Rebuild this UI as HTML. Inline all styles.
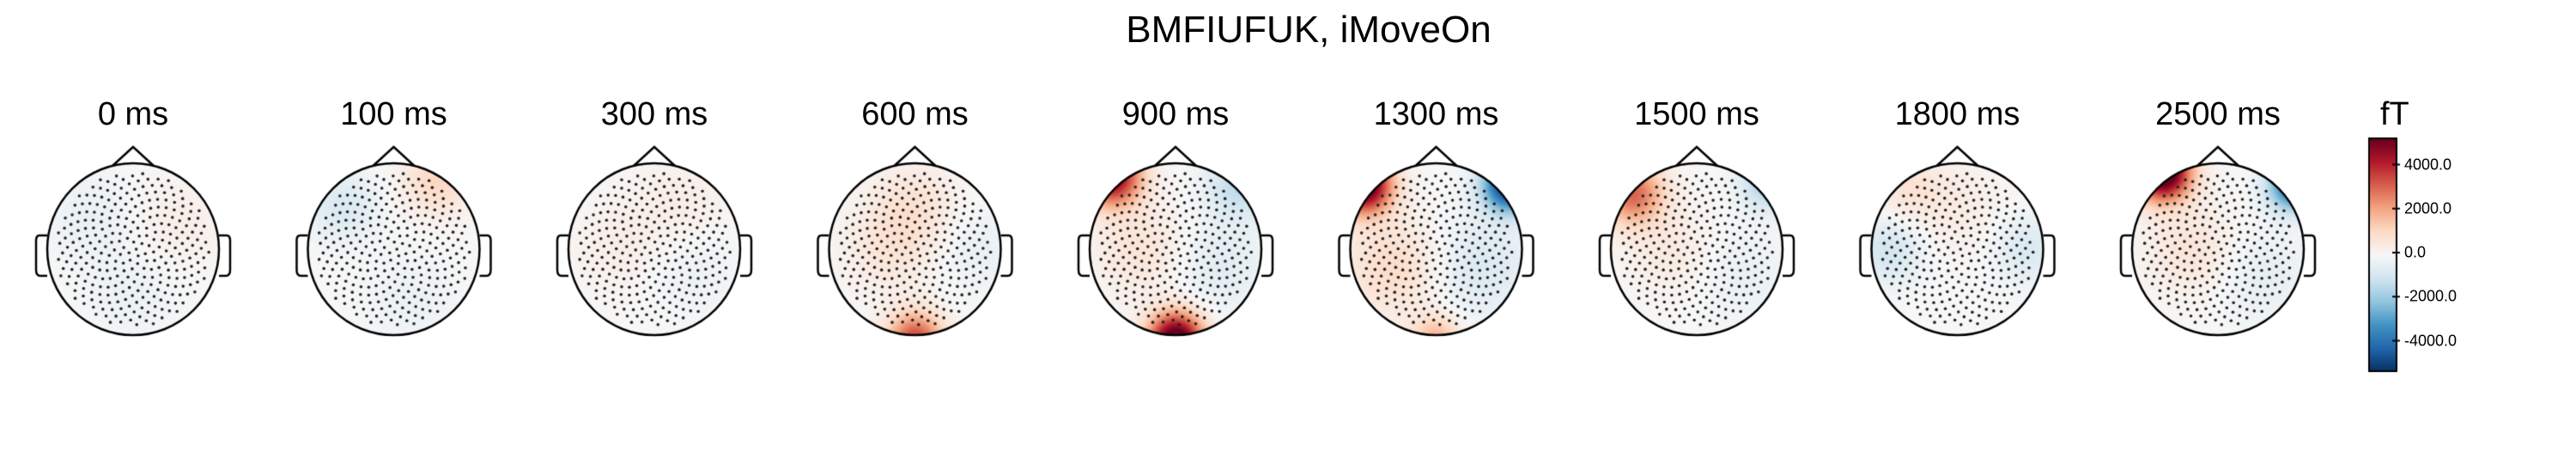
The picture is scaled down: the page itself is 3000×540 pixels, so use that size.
<!DOCTYPE html>
<html><head><meta charset="utf-8"><style>
body{margin:0;background:#fff;width:3000px;height:540px;overflow:hidden;position:relative;font-family:"Liberation Sans",sans-serif}
.t{position:absolute;transform:translateX(-50%);font-size:38px;color:#000;white-space:nowrap}
#title{position:absolute;left:1524px;top:10px;transform:translateX(-50%);font-size:44px}
.tick{position:absolute;left:2800px;font-size:18px;transform:translateY(-50%)}
canvas{position:absolute;left:0;top:0}
</style></head><body>
<div id="title">BMFIUFUK, iMoveOn</div>
<canvas id="c" width="3000" height="540"></canvas>
<div class="t" style="left:2772px;top:112px;font-size:38px;transform:none">fT</div>
<div id="labels"></div>
<script>
const times=["0 ms","100 ms","300 ms","600 ms","900 ms","1300 ms","1500 ms","1800 ms","2500 ms"];
// blobs per head: [x, y, amplitude fT, width]
const blobs=[
[[-0.5,0.4,-350,0.3],[0.5,0.3,350,0.3],[0,-0.5,-300,0.3]],
[[-0.6,0.5,-800,0.15],[0.5,0.8,1100,0.15],[0.2,-0.6,-300,0.3]],
[[0.3,0.5,400,0.3],[-0.4,0,350,0.3],[0.4,-0.2,-350,0.3]],
[[0,0.5,700,0.25],[-0.3,0,600,0.3],[0,-1.05,3500,0.1],[0.7,0,-400,0.25]],
[[-0.75,0.85,5000,0.11],[0.75,0.75,-1400,0.14],[0,-1.05,6000,0.1],[-0.4,0,700,0.3],[0.5,-0.2,-600,0.3]],
[[-0.85,0.75,6000,0.1],[0.85,0.75,-5500,0.09],[-0.5,-0.2,1000,0.35],[0.5,-0.2,-800,0.35],[0,-1.05,1800,0.08]],
[[-0.75,0.65,3000,0.12],[0.85,0.8,-2000,0.1],[-0.3,0,500,0.3],[0.5,-0.3,-400,0.3]],
[[-0.8,0,-1000,0.15],[0.8,0,-800,0.15],[0,0.5,400,0.3],[-0.6,0.7,700,0.15]],
[[-0.65,0.9,6500,0.1],[0.88,0.75,-4500,0.08],[-0.3,0,700,0.3],[0.5,-0.3,-500,0.3]]];
const cbTicks=[4000,2000,0,-2000,-4000];
const vmax=5200;
const cx0=155,dx=303.5,cy=290,R=100;
const stops=[[5,48,97],[33,102,172],[67,147,195],[146,197,222],[209,229,240],[247,247,247],[253,219,199],[244,165,130],[214,96,77],[178,24,43],[103,0,31]];
function cmap(v){let t=(v/vmax+1)/2;t=Math.max(0,Math.min(1,t))*(stops.length-1);const i=Math.min(stops.length-2,Math.floor(t)),f=t-i;return stops[i].map((a,k)=>Math.round(a+(stops[i+1][k]-a)*f));}
const c=document.getElementById('c'),ctx=c.getContext('2d');
const img=ctx.createImageData(3000,540);
const lab=document.getElementById('labels');
times.forEach((tm,h)=>{
 const cx=cx0+h*dx;
 const d=document.createElement('div');d.className='t';d.style.left=cx+'px';d.style.top='112px';d.textContent=tm;
 
 
 lab.appendChild(d);
 for(let y=cy-R;y<=cy+R;y++)for(let x=Math.floor(cx-R);x<=cx+R;x++){
  const nx=(x-cx)/R,ny=-(y-cy)/R;if(nx*nx+ny*ny>1)continue;
  let v=0;blobs[h].forEach(b=>{const dd=(nx-b[0])**2+(ny-b[1])**2;v+=b[2]*Math.exp(-dd/b[3]);});
  const col=cmap(v),o=(y*3000+x)*4;img.data[o]=col[0];img.data[o+1]=col[1];img.data[o+2]=col[2];img.data[o+3]=255;}
});
for(let y=161;y<=432;y++){const v=vmax-(y-161)/(432-161)*2*vmax;const col=cmap(v);for(let x=2759;x<=2791;x++){const o=(y*3000+x)*4;img.data[o]=col[0];img.data[o+1]=col[1];img.data[o+2]=col[2];img.data[o+3]=255;}}
ctx.putImageData(img,0,0);
ctx.strokeStyle='#000';ctx.fillStyle='#222';
times.forEach((tm,h)=>{
 const cx=cx0+h*dx;
 ctx.lineWidth=2.5;
 ctx.beginPath();ctx.arc(cx,cy,R,0,Math.PI*2);ctx.stroke();
 ctx.beginPath();ctx.moveTo(cx-24,cy-R+3);ctx.lineTo(cx,cy-119);ctx.lineTo(cx+24,cy-R+3);ctx.stroke();
 [-1,1].forEach(s=>{ctx.beginPath();const x0=cx+s*100,x1=cx+s*113;ctx.moveTo(x0,cy-16);ctx.lineTo(x1-s*4,cy-16);ctx.quadraticCurveTo(x1,cy-16,x1,cy-10);ctx.lineTo(x1,cy+24);ctx.quadraticCurveTo(x1,cy+31,x1-s*5,cy+31);ctx.lineTo(x0,cy+31);ctx.stroke();});
 const N=300,g=Math.PI*(3-Math.sqrt(5));
 for(let i=0;i<N;i++){const r=0.9*Math.sqrt((i+0.5)/N),a=i*g;ctx.beginPath();ctx.arc(cx+r*R*Math.cos(a),cy+r*R*Math.sin(a),1.8,0,Math.PI*2);ctx.fill();}
});
ctx.lineWidth=2;ctx.strokeRect(2759,161,32,271);
cbTicks.forEach(v=>{const y=294-v/4000*102.5;ctx.beginPath();ctx.moveTo(2786,y);ctx.lineTo(2795,y);ctx.stroke();
 const d=document.createElement('div');d.className='tick';d.style.top=y+'px';d.textContent=v.toFixed(1);
 
 
 lab.appendChild(d);});
</script>
</body></html>
